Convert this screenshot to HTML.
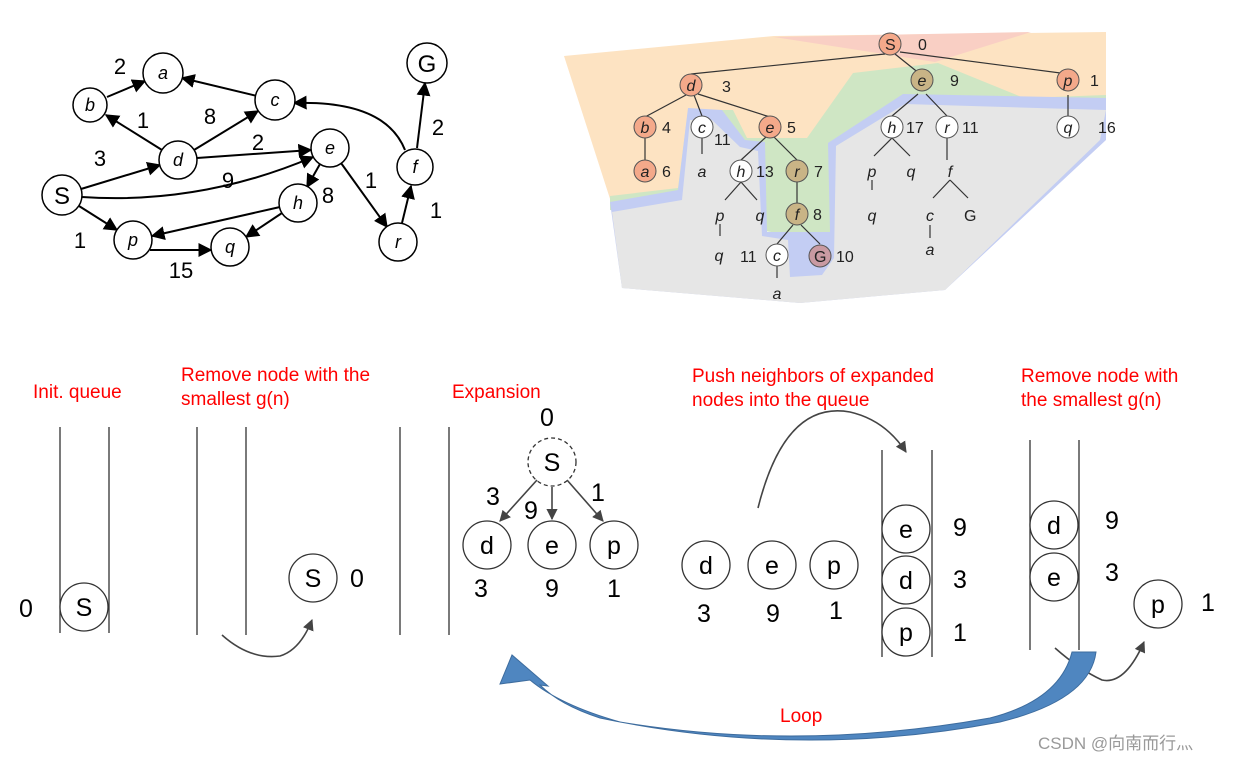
<!DOCTYPE html>
<html><head><meta charset="utf-8"><style>
body{margin:0;background:#fff}
svg{display:block}
.g text{font-family:"Liberation Sans",Arial,sans-serif}
</style></head><body>
<svg width="1235" height="761" viewBox="0 0 1235 761" xmlns="http://www.w3.org/2000/svg">
<defs>
<marker id="ah" viewBox="0 0 10 10" refX="9" refY="5" markerWidth="7" markerHeight="7" orient="auto"><path d="M0,0L10,5L0,10z" fill="#000"/></marker>
<marker id="ah2" viewBox="0 0 10 10" refX="9" refY="5" markerWidth="7" markerHeight="7" orient="auto"><path d="M0,0L10,5L0,10z" fill="#444"/></marker>
</defs>

<!-- ===== Graph ===== -->
<g stroke="#000" stroke-width="2" fill="none" marker-end="url(#ah)">
<line x1="107" y1="97" x2="145" y2="81"/>
<line x1="257" y1="96" x2="182" y2="78"/>
<line x1="162" y1="150" x2="106" y2="115"/>
<line x1="194" y1="150" x2="258" y2="111"/>
<line x1="197" y1="158" x2="311" y2="150"/>
<line x1="81" y1="189" x2="160" y2="165"/>
<path d="M82,197 Q200,205 313,157"/>
<line x1="320" y1="164" x2="307" y2="187"/>
<line x1="341" y1="163" x2="387" y2="227"/>
<line x1="79" y1="206" x2="117" y2="230"/>
<line x1="280" y1="207" x2="152" y2="236"/>
<line x1="282" y1="213" x2="246" y2="237"/>
<line x1="150" y1="250" x2="211" y2="250"/>
<line x1="402" y1="223" x2="411" y2="186"/>
<path d="M405,150 Q385,100 294,103"/>
<line x1="417" y1="148" x2="425" y2="83"/>
</g>
<g class="g" fill="#fff" stroke="#000" stroke-width="1.5">
<circle cx="163" cy="73" r="20"/><circle cx="90" cy="105" r="17"/><circle cx="275" cy="100" r="20"/>
<circle cx="178" cy="160" r="19"/><circle cx="330" cy="148" r="19"/><circle cx="62" cy="195" r="20"/>
<circle cx="298" cy="203" r="19"/><circle cx="133" cy="240" r="19"/><circle cx="230" cy="247" r="19"/>
<circle cx="398" cy="242" r="19"/><circle cx="415" cy="167" r="18"/><circle cx="427" cy="63" r="20"/>
</g>
<g class="g" font-size="18" font-style="italic" text-anchor="middle" fill="#000">
<text x="163" y="79">a</text><text x="90" y="111">b</text><text x="275" y="106">c</text>
<text x="178" y="166">d</text><text x="330" y="154">e</text><text x="298" y="209">h</text>
<text x="133" y="246">p</text><text x="230" y="253">q</text><text x="398" y="248">r</text><text x="415" y="173">f</text>
</g>
<g class="g" font-size="24" text-anchor="middle" fill="#000">
<text x="62" y="204">S</text><text x="427" y="72">G</text>
</g>
<g class="g" font-size="22" text-anchor="middle" fill="#000">
<text x="120" y="74">2</text><text x="143" y="128">1</text><text x="210" y="124">8</text>
<text x="258" y="150">2</text><text x="100" y="166">3</text><text x="228" y="188">9</text>
<text x="328" y="203">8</text><text x="371" y="188">1</text><text x="80" y="248">1</text>
<text x="181" y="278">15</text><text x="438" y="135">2</text><text x="436" y="218">1</text>
</g>

<!-- ===== Search tree regions ===== -->
<polygon points="564,56 774,36 1106,32 1106,120 612,205" fill="#fde3c2"/>
<polygon points="774,37 1031,32 935,62" fill="#f9cfc4"/>
<polygon points="610,196 678,188 688,110 733,110 747,138 807,138 853,73 938,63 1024,98 1106,95 1106,110 830,240 610,210" fill="#cfe6c4"/>
<polygon points="610,202 678,190 688,108 722,110 745,140 765,142 767,232 830,232 828,143 903,94 1106,98 1106,140 945,290 800,303 622,288" fill="#c3cdf3"/>
<polygon points="612,212 682,200 690,120 712,120 740,147 758,151 762,236 788,240 790,277 822,275 834,258 836,146 905,104 1106,110 1100,140 945,290 800,303 622,288" fill="#e6e6e6"/>

<g stroke="#333" stroke-width="1.2">
<line x1="885" y1="54" x2="691" y2="74"/><line x1="895" y1="54" x2="920" y2="74"/><line x1="900" y1="52" x2="1068" y2="74"/>
<line x1="686" y1="95" x2="645" y2="117"/><line x1="694" y1="95" x2="702" y2="116"/><line x1="698" y1="94" x2="770" y2="117"/>
<line x1="645" y1="138" x2="645" y2="160"/><line x1="702" y1="138" x2="702" y2="154"/>
<line x1="766" y1="137" x2="741" y2="160"/><line x1="774" y1="137" x2="797" y2="160"/>
<line x1="741" y1="182" x2="725" y2="200"/><line x1="741" y1="182" x2="757" y2="200"/>
<line x1="720" y1="224" x2="720" y2="236"/><line x1="797" y1="182" x2="797" y2="204"/>
<line x1="793" y1="225" x2="777" y2="244"/><line x1="801" y1="225" x2="820" y2="244"/>
<line x1="777" y1="266" x2="777" y2="278"/>
<line x1="918" y1="94" x2="892" y2="116"/><line x1="926" y1="94" x2="947" y2="116"/>
<line x1="1068" y1="95" x2="1068" y2="116"/>
<line x1="892" y1="138" x2="874" y2="156"/><line x1="892" y1="138" x2="910" y2="156"/>
<line x1="872" y1="180" x2="872" y2="190"/><line x1="947" y1="138" x2="947" y2="160"/>
<line x1="950" y1="180" x2="933" y2="198"/><line x1="950" y1="180" x2="968" y2="198"/>
<line x1="930" y1="225" x2="930" y2="238"/>
</g>
<g stroke="#555" stroke-width="1">
<circle cx="890" cy="44" r="11" fill="#f4a98a"/>
<circle cx="691" cy="85" r="11" fill="#f4a98a"/><circle cx="922" cy="80" r="11" fill="#c9b486"/><circle cx="1068" cy="80" r="11" fill="#f4a98a"/>
<circle cx="645" cy="127" r="11" fill="#f4a98a"/><circle cx="702" cy="127" r="11" fill="#fff"/><circle cx="770" cy="127" r="11" fill="#f4a98a"/>
<circle cx="892" cy="127" r="11" fill="#fff"/><circle cx="947" cy="127" r="11" fill="#fff"/><circle cx="1068" cy="127" r="11" fill="#fff"/>
<circle cx="645" cy="171" r="11" fill="#f4a98a"/><circle cx="741" cy="171" r="11" fill="#fff"/><circle cx="797" cy="171" r="11" fill="#c9b486"/>
<circle cx="797" cy="214" r="11" fill="#c9b486"/><circle cx="777" cy="255" r="11" fill="#fff"/><circle cx="820" cy="256" r="11" fill="#c99aa2"/>
</g>
<g class="g" font-size="16" font-style="italic" text-anchor="middle" fill="#222">
<text x="691" y="91">d</text><text x="922" y="86">e</text><text x="1068" y="86">p</text>
<text x="645" y="133">b</text><text x="702" y="133">c</text><text x="770" y="133">e</text>
<text x="892" y="133">h</text><text x="947" y="133">r</text><text x="1068" y="133">q</text>
<text x="645" y="177">a</text><text x="702" y="177">a</text><text x="741" y="177">h</text><text x="797" y="177">r</text>
<text x="872" y="177">p</text><text x="911" y="177">q</text><text x="950" y="177">f</text>
<text x="720" y="221">p</text><text x="760" y="221">q</text><text x="797" y="220">f</text>
<text x="872" y="221">q</text><text x="930" y="221">c</text>
<text x="719" y="261">q</text><text x="777" y="261">c</text><text x="930" y="255">a</text><text x="777" y="299">a</text>
</g>
<g class="g" font-size="16" fill="#222">
<text x="885" y="50">S</text><text x="814" y="262">G</text><text x="964" y="221">G</text>
<text x="918" y="50">0</text><text x="722" y="92">3</text><text x="950" y="86">9</text><text x="1090" y="86">1</text>
<text x="662" y="133">4</text><text x="714" y="145">11</text><text x="787" y="133">5</text>
<text x="906" y="133">17</text><text x="962" y="133">11</text><text x="1098" y="133">16</text>
<text x="662" y="177">6</text><text x="756" y="177">13</text><text x="814" y="177">7</text>
<text x="813" y="220">8</text><text x="740" y="262">11</text><text x="836" y="262">10</text>
</g>

<!-- ===== Bottom ===== -->
<g font-family="'Liberation Sans',Arial,sans-serif" font-size="19" fill="#ff0000">
<text x="33" y="398">Init. queue</text>
<text x="181" y="381">Remove node with the</text><text x="181" y="405">smallest g(n)</text>
<text x="452" y="398">Expansion</text>
<text x="692" y="382">Push neighbors of expanded</text><text x="692" y="406">nodes into the queue</text>
<text x="1021" y="382">Remove node with</text><text x="1021" y="406">the smallest g(n)</text>
<text x="780" y="722">Loop</text>
</g>
<g stroke="#333" stroke-width="1.3">
<line x1="60" y1="427" x2="60" y2="633"/><line x1="109" y1="427" x2="109" y2="633"/>
<line x1="197" y1="427" x2="197" y2="635"/><line x1="246" y1="427" x2="246" y2="635"/>
<line x1="400" y1="427" x2="400" y2="635"/><line x1="449" y1="427" x2="449" y2="635"/>
<line x1="882" y1="450" x2="882" y2="657"/><line x1="932" y1="450" x2="932" y2="657"/>
<line x1="1030" y1="440" x2="1030" y2="650"/><line x1="1079" y1="440" x2="1079" y2="650"/>
</g>
<g fill="#fff" stroke="#333" stroke-width="1.3">
<circle cx="84" cy="607" r="24"/><circle cx="313" cy="578" r="24"/>
<circle cx="552" cy="462" r="24" stroke-dasharray="4,3"/>
<circle cx="487" cy="545" r="24"/><circle cx="552" cy="545" r="24"/><circle cx="614" cy="545" r="24"/>
<circle cx="706" cy="565" r="24"/><circle cx="772" cy="565" r="24"/><circle cx="834" cy="565" r="24"/>
<circle cx="906" cy="529" r="24"/><circle cx="906" cy="580" r="24"/><circle cx="906" cy="632" r="24"/>
<circle cx="1054" cy="525" r="24"/><circle cx="1054" cy="577" r="24"/><circle cx="1158" cy="604" r="24"/>
</g>
<g stroke="#444" stroke-width="1.6" fill="none" marker-end="url(#ah2)">
<line x1="537" y1="480" x2="500" y2="521"/><line x1="552" y1="487" x2="552" y2="519"/><line x1="567" y1="480" x2="603" y2="521"/>
<path d="M222,635 Q250,660 280,656 Q300,650 312,620"/>
<path d="M758,508 Q785,400 850,412 Q885,420 906,452"/>
<path d="M1055,648 Q1080,670 1102,680 Q1125,685 1144,642"/>
</g>
<g font-family="'Liberation Sans','DejaVu Sans',sans-serif" font-size="25" text-anchor="middle" fill="#000">
<text x="84" y="616">S</text><text x="26" y="617">0</text>
<text x="313" y="587">S</text><text x="357" y="587">0</text>
<text x="547" y="426">0</text><text x="552" y="471">S</text>
<text x="487" y="554">d</text><text x="552" y="554">e</text><text x="614" y="554">p</text>
<text x="493" y="505">3</text><text x="531" y="519">9</text><text x="598" y="501">1</text>
<text x="481" y="597">3</text><text x="552" y="597">9</text><text x="614" y="597">1</text>
<text x="706" y="574">d</text><text x="772" y="574">e</text><text x="834" y="574">p</text>
<text x="704" y="622">3</text><text x="773" y="622">9</text><text x="836" y="619">1</text>
<text x="906" y="538">e</text><text x="906" y="589">d</text><text x="906" y="641">p</text>
<text x="960" y="536">9</text><text x="960" y="588">3</text><text x="960" y="641">1</text>
<text x="1054" y="534">d</text><text x="1054" y="586">e</text><text x="1158" y="613">p</text>
<text x="1112" y="529">9</text><text x="1112" y="581">3</text><text x="1208" y="611">1</text>
</g>
<!-- big loop arrow -->
<path d="M1072,652 L1096,652 Q1090,700 1000,722 Q800,760 600,718 Q560,705 540,685 L548,686 L512,655 L500,684 L530,680 Q560,705 620,722 Q800,752 990,718 Q1060,700 1072,652 Z" fill="#4f86c0" stroke="#3d6c9e" stroke-width="1"/>
<text x="1038" y="749" font-family="'Liberation Sans','Noto Sans CJK SC',sans-serif" font-size="17" fill="#999">CSDN @向南而行灬</text>
</svg>
</body></html>
